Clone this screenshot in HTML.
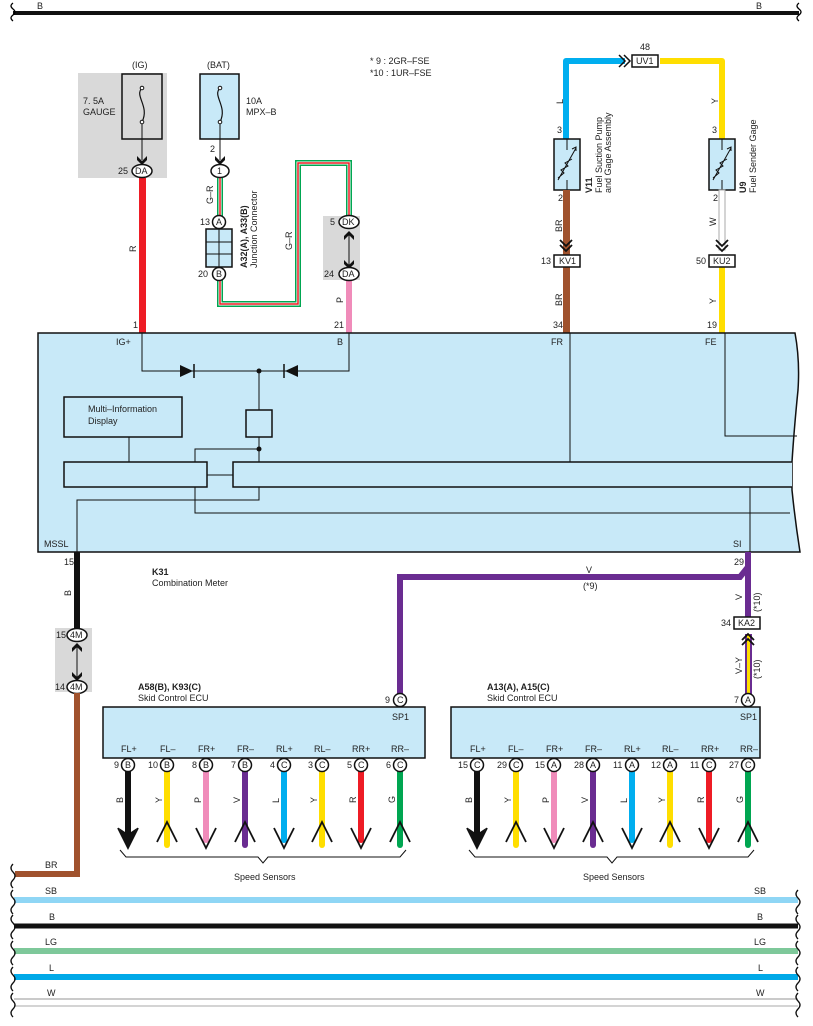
<!DOCTYPE html>
<html><head><meta charset="utf-8"><style>
html,body{margin:0;padding:0;background:#fff}
svg{display:block}
text{font-family:"Liberation Sans",sans-serif;font-size:9px;fill:#222}
.b{font-weight:bold}
</style></head><body>
<svg width="813" height="1026" viewBox="0 0 813 1026" xmlns="http://www.w3.org/2000/svg">
<!-- top B -->
<line x1="13" y1="13" x2="799" y2="13" stroke="#111" stroke-width="4"/>
<path d="M13,3 q-4,3 0,6 q4,3 0,6 q-4,3 0,6" fill="none" stroke="#000" stroke-width="1.3"/>
<path d="M799,3 q-4,3 0,6 q4,3 0,6 q-4,3 0,6" fill="none" stroke="#000" stroke-width="1.3"/>
<text x="37" y="9">B</text><text x="756" y="9">B</text>

<text x="370" y="64">* 9 : 2GR–FSE</text>
<text x="370" y="76">*10 : 1UR–FSE</text>

<!-- IG fuse -->
<rect x="78" y="73" width="89" height="105" fill="#d9d9d9"/>
<rect x="122" y="74" width="40" height="65" fill="#d9d9d9" stroke="#111" stroke-width="1.5"/>
<text x="132" y="68">(IG)</text>
<text x="83" y="104">7. 5A</text><text x="83" y="115">GAUGE</text>
<path d="M142,88 c-8,8 8,18 0,34" fill="none" stroke="#111" stroke-width="1.2"/>
<circle cx="142" cy="88" r="1.8" fill="#fff" stroke="#111"/><circle cx="142" cy="122" r="1.8" fill="#fff" stroke="#111"/>
<line x1="142" y1="124" x2="142" y2="160" stroke="#111"/>
<path d="M137,156 L142,161 L147,156 L147,160 L142,165 L137,160Z" fill="#111"/>
<rect x="139" y="178" width="7" height="155" fill="#ee1c25"/>
<ellipse cx="142" cy="171" rx="10" ry="6.5" fill="#fff" stroke="#111" stroke-width="1.5"/><text x="135" y="174">DA</text>
<text x="118" y="174">25</text>
<text x="0" y="0" transform="translate(136,252) rotate(-90)">R</text>
<text x="133" y="328">1</text>

<!-- BAT fuse -->
<rect x="200" y="74" width="39" height="65" fill="#c8e9f8" stroke="#111" stroke-width="1.5"/>
<text x="207" y="68">(BAT)</text>
<text x="246" y="104">10A</text><text x="246" y="115">MPX–B</text>
<path d="M220,88 c-8,8 8,18 0,34" fill="none" stroke="#111" stroke-width="1.2"/>
<circle cx="220" cy="88" r="1.8" fill="#fff" stroke="#111"/><circle cx="220" cy="122" r="1.8" fill="#fff" stroke="#111"/>
<line x1="220" y1="124" x2="220" y2="160" stroke="#111"/>
<path d="M215,156 L220,161 L225,156 L225,160 L220,165 L215,160Z" fill="#111"/>
<text x="210" y="152">2</text>
<!-- G-R wire -->
<path d="M220,178 V222 M220,274 V304 H298 V163 H349 V216" fill="none" stroke="#00a651" stroke-width="6"/>
<path d="M220,178 V222 M220,274 V304 H298 V163 H349 V216" fill="none" stroke="#fff" stroke-width="3"/>
<path d="M220,178 V222 M220,274 V304 H298 V163 H349 V216" fill="none" stroke="#ee1c25" stroke-width="1.5"/>
<ellipse cx="220" cy="171" rx="9" ry="6.5" fill="#fff" stroke="#111" stroke-width="1.5"/><text x="217" y="174">1</text>
<text x="0" y="0" transform="translate(213,204) rotate(-90)">G–R</text>
<text x="0" y="0" transform="translate(292,250) rotate(-90)">G–R</text>
<rect x="206" y="229" width="26" height="38" fill="#c8e9f8" stroke="#111" stroke-width="1.5"/>
<path d="M219,229 V267 M206,242 H232 M206,254 H232" stroke="#111"/>
<circle cx="219" cy="222" r="6.5" fill="#fff" stroke="#111" stroke-width="1.5"/><text x="216" y="225">A</text>
<circle cx="219" cy="274" r="6.5" fill="#fff" stroke="#111" stroke-width="1.5"/><text x="216" y="277">B</text>
<text x="200" y="225">13</text><text x="198" y="277">20</text>
<text class="b" x="0" y="0" transform="translate(247,268) rotate(-90)">A32(A), A33(B)</text>
<text x="0" y="0" transform="translate(257,268) rotate(-90)">Junction Connector</text>
<!-- DK/DA -->
<rect x="323" y="216" width="37" height="64" fill="#d9d9d9"/>
<rect x="346" y="280" width="6" height="53" fill="#f08cba"/>
<line x1="349" y1="232" x2="349" y2="266" stroke="#111"/>
<path d="M344,236 L349,231 L354,236 L354,240 L349,235 L344,240Z" fill="#111"/>
<path d="M344,260 L349,265 L354,260 L354,264 L349,269 L344,264Z" fill="#111"/>
<ellipse cx="349" cy="222" rx="10" ry="6.5" fill="#fff" stroke="#111" stroke-width="1.5"/><text x="342" y="225">DK</text>
<ellipse cx="349" cy="274" rx="10" ry="6.5" fill="#fff" stroke="#111" stroke-width="1.5"/><text x="342" y="277">DA</text>
<text x="330" y="225">5</text><text x="324" y="277">24</text>
<text x="0" y="0" transform="translate(343,303) rotate(-90)">P</text>
<text x="334" y="328">21</text>

<!-- Right upper -->
<path d="M566,139 V61 H625" fill="none" stroke="#00aeef" stroke-width="6" stroke-linejoin="round"/>
<path d="M660,61 H722 V139" fill="none" stroke="#ffde00" stroke-width="6" stroke-linejoin="round"/>
<path d="M619,55 l6,6 l-6,6 M624,55 l6,6 l-6,6" fill="none" stroke="#111" stroke-width="1.5"/>
<rect x="632" y="55" width="26" height="12" fill="#fff" stroke="#111" stroke-width="1.5"/><text x="636" y="64">UV1</text>
<text x="640" y="50">48</text>
<text x="0" y="0" transform="translate(563,104) rotate(-90)">L</text>
<text x="0" y="0" transform="translate(718,104) rotate(-90)">Y</text>
<text x="557" y="133">3</text><text x="712" y="133">3</text>
<rect x="554" y="139" width="26" height="51" fill="#c8e9f8" stroke="#111" stroke-width="1.5"/>
<rect x="709" y="139" width="26" height="51" fill="#c8e9f8" stroke="#111" stroke-width="1.5"/>
<path d="M567,139 V150 M567,180 V190 M558,178 l6,-5 l-3,-3 l7,-4 l-3,-3 l7,-4 M558,180 L576,148 M572,149 l4,-2 l0,4" fill="none" stroke="#111" stroke-width="1"/>
<path d="M722,139 V150 M722,180 V190 M713,178 l6,-5 l-3,-3 l7,-4 l-3,-3 l7,-4 M713,180 L731,148 M727,149 l4,-2 l0,4" fill="none" stroke="#111" stroke-width="1"/>
<text class="b" x="0" y="0" transform="translate(592,193) rotate(-90)">V11</text>
<text x="0" y="0" transform="translate(602,193) rotate(-90)">Fuel Suction Pump</text>
<text x="0" y="0" transform="translate(611,193) rotate(-90)">and Gage Assembly</text>
<text class="b" x="0" y="0" transform="translate(746,193) rotate(-90)">U9</text>
<text x="0" y="0" transform="translate(756,193) rotate(-90)">Fuel Sender Gage</text>
<text x="558" y="201">2</text><text x="713" y="201">2</text>
<rect x="563" y="190" width="7" height="143" fill="#a0522d"/>
<rect x="719" y="190" width="6" height="60" fill="#fff" stroke="#aaa" stroke-width="1"/>
<rect x="719" y="267" width="6" height="66" fill="#ffde00"/>
<path d="M560,240 l6,6 l6,-6 M560,245 l6,6 l6,-6" fill="none" stroke="#111" stroke-width="1.8"/>
<path d="M716,240 l6,6 l6,-6 M716,245 l6,6 l6,-6" fill="none" stroke="#111" stroke-width="1.8"/>
<rect x="554" y="255" width="26" height="12" fill="#fff" stroke="#111" stroke-width="1.5"/><text x="559" y="264">KV1</text>
<rect x="709" y="255" width="26" height="12" fill="#fff" stroke="#111" stroke-width="1.5"/><text x="713" y="264">KU2</text>
<text x="541" y="264">13</text><text x="696" y="264">50</text>
<text x="0" y="0" transform="translate(562,232) rotate(-90)">BR</text>
<text x="0" y="0" transform="translate(562,306) rotate(-90)">BR</text>
<text x="0" y="0" transform="translate(716,226) rotate(-90)">W</text>
<text x="0" y="0" transform="translate(716,304) rotate(-90)">Y</text>
<text x="553" y="328">34</text><text x="707" y="328">19</text>

<!-- Combination meter -->
<path d="M38,333 H795 Q800,360 798,390 Q794,430 792,462 L792,490 Q795,520 800,552 H38 Z" fill="#c8e9f8" stroke="#111" stroke-width="1.5"/>
<text x="116" y="345">IG+</text><text x="337" y="345">B</text><text x="551" y="345">FR</text><text x="705" y="345">FE</text>
<g fill="none" stroke="#111" stroke-width="1">
<path d="M142,333 V371 H349 V333"/>
<path d="M259,371 V410 M259,437 V462 M259,449 H195 V462"/>
<path d="M129,437 V462"/>
<path d="M207,475 H233"/>
<path d="M570,333 V462"/>
<path d="M725,333 V436 H797"/>
<path d="M77,552 V500 H259 V487"/>
<path d="M195,487 V513 H790"/>
<path d="M750,487 V552"/>
</g>
<path d="M180,365 L193,371 L180,377Z" fill="#111"/><line x1="194" y1="364" x2="194" y2="378" stroke="#111" stroke-width="1.5"/>
<path d="M298,365 L285,371 L298,377Z" fill="#111"/><line x1="284" y1="364" x2="284" y2="378" stroke="#111" stroke-width="1.5"/>
<circle cx="259" cy="371" r="2.5" fill="#111"/><circle cx="259" cy="449" r="2.5" fill="#111"/>
<rect x="246" y="410" width="26" height="27" fill="#c8e9f8" stroke="#111" stroke-width="1.5"/>
<rect x="64" y="397" width="118" height="40" fill="#c8e9f8" stroke="#111" stroke-width="1.5"/>
<text x="88" y="412">Multi–Information</text><text x="88" y="424">Display</text>
<rect x="64" y="462" width="143" height="25" fill="#c8e9f8" stroke="#111" stroke-width="1.5"/>
<path d="M792,462 H233 V487 H792" fill="#c8e9f8" stroke="#111" stroke-width="1.5"/>
<text x="44" y="547">MSSL</text><text x="733" y="547">SI</text>
<text x="64" y="565">15</text><text x="734" y="565">29</text>
<text class="b" x="152" y="575">K31</text><text x="152" y="586">Combination Meter</text>

<!-- MSSL wire -->
<rect x="74" y="552" width="6" height="76" fill="#111"/>
<text x="0" y="0" transform="translate(71,596) rotate(-90)">B</text>
<rect x="55" y="628" width="37" height="64" fill="#d9d9d9"/>
<line x1="77" y1="644" x2="77" y2="678" stroke="#111"/>
<path d="M72,648 L77,643 L82,648 L82,652 L77,647 L72,652Z" fill="#111"/>
<path d="M72,672 L77,677 L82,672 L82,676 L77,681 L72,676Z" fill="#111"/>
<ellipse cx="77" cy="635" rx="10" ry="6.5" fill="#fff" stroke="#111" stroke-width="1.5"/><text x="70" y="638">4M</text>
<ellipse cx="77" cy="687" rx="10" ry="6.5" fill="#fff" stroke="#111" stroke-width="1.5"/><text x="70" y="690">4M</text>
<text x="56" y="638">15</text><text x="55" y="690">14</text>
<path d="M77,693 V874 H15" fill="none" stroke="#a0522d" stroke-width="6"/>
<text x="45" y="868">BR</text>

<!-- Purple V -->
<path d="M748,552 V567 L740,577 H400 V694" fill="none" stroke="#6a2c91" stroke-width="6"/>
<path d="M748,567 V617" fill="none" stroke="#6a2c91" stroke-width="6"/>
<text x="586" y="573">V</text><text x="583" y="589">(*9)</text>
<text x="0" y="0" transform="translate(742,600) rotate(-90)">V</text>
<text x="0" y="0" transform="translate(760,612) rotate(-90)">(*10)</text>
<rect x="734" y="617" width="26" height="12" fill="#fff" stroke="#111" stroke-width="1.5"/><text x="738" y="626">KA2</text>
<text x="721" y="626">34</text>
<rect x="745" y="634" width="7" height="60" fill="#6a2c91"/><rect x="747" y="634" width="3" height="60" fill="#ffde00"/>
<path d="M742,640 l6,-6 l6,6 M742,645 l6,-6 l6,6" fill="none" stroke="#111" stroke-width="1.8"/>
<text x="0" y="0" transform="translate(742,674) rotate(-90)">V–Y</text>
<text x="0" y="0" transform="translate(760,679) rotate(-90)">(*10)</text>
<circle cx="748" cy="700" r="6.5" fill="#fff" stroke="#111" stroke-width="1.5"/><text x="745" y="703">A</text>
<text x="734" y="703">7</text>
<circle cx="400" cy="700" r="6.5" fill="#fff" stroke="#111" stroke-width="1.5"/><text x="397" y="703">C</text>
<text x="385" y="703">9</text>

<!-- Left ECU -->
<text class="b" x="138" y="690">A58(B), K93(C)</text><text x="138" y="701">Skid Control ECU</text>
<rect x="103" y="707" width="322" height="51" fill="#c8e9f8" stroke="#111" stroke-width="1.5"/>
<text x="392" y="720">SP1</text>
<!-- Right ECU -->
<text class="b" x="487" y="690">A13(A), A15(C)</text><text x="487" y="701">Skid Control ECU</text>
<rect x="451" y="707" width="309" height="51" fill="#c8e9f8" stroke="#111" stroke-width="1.5"/>
<text x="740" y="720">SP1</text>

<g>
<text x="121" y="752">FL+</text><text x="160" y="752">FL–</text><text x="198" y="752">FR+</text><text x="237" y="752">FR–</text><text x="276" y="752">RL+</text><text x="314" y="752">RL–</text><text x="352" y="752">RR+</text><text x="391" y="752">RR–</text>
<text x="470" y="752">FL+</text><text x="508" y="752">FL–</text><text x="546" y="752">FR+</text><text x="585" y="752">FR–</text><text x="624" y="752">RL+</text><text x="662" y="752">RL–</text><text x="701" y="752">RR+</text><text x="740" y="752">RR–</text>
</g>
<g stroke-linecap="round">
<line x1="128" y1="770" x2="128" y2="835" stroke="#111" stroke-width="6"/>
<line x1="167" y1="770" x2="167" y2="845" stroke="#ffde00" stroke-width="6"/>
<line x1="206" y1="770" x2="206" y2="840" stroke="#f08cba" stroke-width="6"/>
<line x1="245" y1="770" x2="245" y2="845" stroke="#6a2c91" stroke-width="6"/>
<line x1="284" y1="770" x2="284" y2="840" stroke="#00aeef" stroke-width="6"/>
<line x1="322" y1="770" x2="322" y2="845" stroke="#ffde00" stroke-width="6"/>
<line x1="361" y1="770" x2="361" y2="840" stroke="#ee1c25" stroke-width="6"/>
<line x1="400" y1="770" x2="400" y2="845" stroke="#00a651" stroke-width="6"/>
<line x1="477" y1="770" x2="477" y2="835" stroke="#111" stroke-width="6"/>
<line x1="516" y1="770" x2="516" y2="845" stroke="#ffde00" stroke-width="6"/>
<line x1="554" y1="770" x2="554" y2="840" stroke="#f08cba" stroke-width="6"/>
<line x1="593" y1="770" x2="593" y2="845" stroke="#6a2c91" stroke-width="6"/>
<line x1="632" y1="770" x2="632" y2="840" stroke="#00aeef" stroke-width="6"/>
<line x1="670" y1="770" x2="670" y2="845" stroke="#ffde00" stroke-width="6"/>
<line x1="709" y1="770" x2="709" y2="840" stroke="#ee1c25" stroke-width="6"/>
<line x1="748" y1="770" x2="748" y2="845" stroke="#00a651" stroke-width="6"/>
</g>
<g fill="none" stroke="#111" stroke-width="1.8">
<path d="M118,828 L128,848 L138,828"/><path d="M157,842 L167,822 L177,842"/><path d="M196,828 L206,848 L216,828"/><path d="M235,842 L245,822 L255,842"/>
<path d="M274,828 L284,848 L294,828"/><path d="M312,842 L322,822 L332,842"/><path d="M351,828 L361,848 L371,828"/><path d="M390,842 L400,822 L410,842"/>
<path d="M467,828 L477,848 L487,828"/><path d="M506,842 L516,822 L526,842"/><path d="M544,828 L554,848 L564,828"/><path d="M583,842 L593,822 L603,842"/>
<path d="M622,828 L632,848 L642,828"/><path d="M660,842 L670,822 L680,842"/><path d="M699,828 L709,848 L719,828"/><path d="M738,842 L748,822 L758,842"/>
<path d="M120,850 L126,857 L258,857 L263,863 L268,857 L400,857 L406,850" stroke-width="1"/>
<path d="M469,850 L475,857 L607,857 L612,863 L617,857 L748,857 L754,850" stroke-width="1"/>
</g>
<path d="M119,828 L128,848 L137,828 L128,834Z" fill="#111"/>
<path d="M468,828 L477,848 L486,828 L477,834Z" fill="#111"/>
<text x="234" y="880">Speed Sensors</text><text x="583" y="880">Speed Sensors</text>
<g fill="#fff" stroke="#111" stroke-width="1.5">
<circle cx="128" cy="765" r="6.5"/><circle cx="167" cy="765" r="6.5"/><circle cx="206" cy="765" r="6.5"/><circle cx="245" cy="765" r="6.5"/><circle cx="284" cy="765" r="6.5"/><circle cx="322" cy="765" r="6.5"/><circle cx="361" cy="765" r="6.5"/><circle cx="400" cy="765" r="6.5"/>
<circle cx="477" cy="765" r="6.5"/><circle cx="516" cy="765" r="6.5"/><circle cx="554" cy="765" r="6.5"/><circle cx="593" cy="765" r="6.5"/><circle cx="632" cy="765" r="6.5"/><circle cx="670" cy="765" r="6.5"/><circle cx="709" cy="765" r="6.5"/><circle cx="748" cy="765" r="6.5"/>
</g>
<g>
<text x="125" y="768">B</text><text x="164" y="768">B</text><text x="203" y="768">B</text><text x="242" y="768">B</text><text x="281" y="768">C</text><text x="319" y="768">C</text><text x="358" y="768">C</text><text x="397" y="768">C</text>
<text x="114" y="768">9</text><text x="148" y="768">10</text><text x="192" y="768">8</text><text x="231" y="768">7</text><text x="270" y="768">4</text><text x="308" y="768">3</text><text x="347" y="768">5</text><text x="386" y="768">6</text>
<text x="474" y="768">C</text><text x="513" y="768">C</text><text x="551" y="768">A</text><text x="590" y="768">A</text><text x="629" y="768">A</text><text x="667" y="768">A</text><text x="706" y="768">C</text><text x="745" y="768">C</text>
<text x="458" y="768">15</text><text x="497" y="768">29</text><text x="535" y="768">15</text><text x="574" y="768">28</text><text x="613" y="768">11</text><text x="651" y="768">12</text><text x="690" y="768">11</text><text x="729" y="768">27</text>
</g>
<g>
<text transform="translate(123,803) rotate(-90)">B</text><text transform="translate(162,803) rotate(-90)">Y</text><text transform="translate(201,803) rotate(-90)">P</text><text transform="translate(240,803) rotate(-90)">V</text><text transform="translate(279,803) rotate(-90)">L</text><text transform="translate(317,803) rotate(-90)">Y</text><text transform="translate(356,803) rotate(-90)">R</text><text transform="translate(395,803) rotate(-90)">G</text>
<text transform="translate(472,803) rotate(-90)">B</text><text transform="translate(511,803) rotate(-90)">Y</text><text transform="translate(549,803) rotate(-90)">P</text><text transform="translate(588,803) rotate(-90)">V</text><text transform="translate(627,803) rotate(-90)">L</text><text transform="translate(665,803) rotate(-90)">Y</text><text transform="translate(704,803) rotate(-90)">R</text><text transform="translate(743,803) rotate(-90)">G</text>
</g>

<!-- bottom buses -->
<line x1="14" y1="900" x2="798" y2="900" stroke="#8fd6f5" stroke-width="6"/>
<line x1="14" y1="926" x2="798" y2="926" stroke="#111" stroke-width="5"/>
<line x1="14" y1="951" x2="798" y2="951" stroke="#7ec89a" stroke-width="6"/>
<line x1="14" y1="977" x2="798" y2="977" stroke="#00a9e8" stroke-width="6"/>
<line x1="14" y1="999" x2="798" y2="999" stroke="#aaa" stroke-width="1.2"/>
<line x1="14" y1="1006" x2="798" y2="1006" stroke="#bbb" stroke-width="1.2"/>
<path d="M13,864 q-4,4 0,8 q4,4 0,8 q-4,4 0,8 M13,890 q-4,4 0,8 q4,4 0,8 q-4,4 0,8 M13,915 q-4,4 0,8 q4,4 0,8 q-4,4 0,8 M13,941 q-4,4 0,8 q4,4 0,8 q-4,4 0,8 M13,967 q-4,4 0,8 q4,4 0,8 q-4,4 0,8 M13,993 q-4,4 0,8 q4,4 0,8 q-4,4 0,8" fill="none" stroke="#111" stroke-width="1.3"/>
<path d="M798,890 q-4,4 0,8 q4,4 0,8 q-4,4 0,8 M798,915 q-4,4 0,8 q4,4 0,8 q-4,4 0,8 M798,941 q-4,4 0,8 q4,4 0,8 q-4,4 0,8 M798,967 q-4,4 0,8 q4,4 0,8 q-4,4 0,8 M798,993 q-4,4 0,8 q4,4 0,8 q-4,4 0,8" fill="none" stroke="#111" stroke-width="1.3"/>
<text x="45" y="894">SB</text><text x="49" y="920">B</text><text x="45" y="945">LG</text><text x="49" y="971">L</text><text x="47" y="996">W</text>
<text x="754" y="894">SB</text><text x="757" y="920">B</text><text x="754" y="945">LG</text><text x="758" y="971">L</text><text x="756" y="996">W</text>
</svg>
</body></html>
